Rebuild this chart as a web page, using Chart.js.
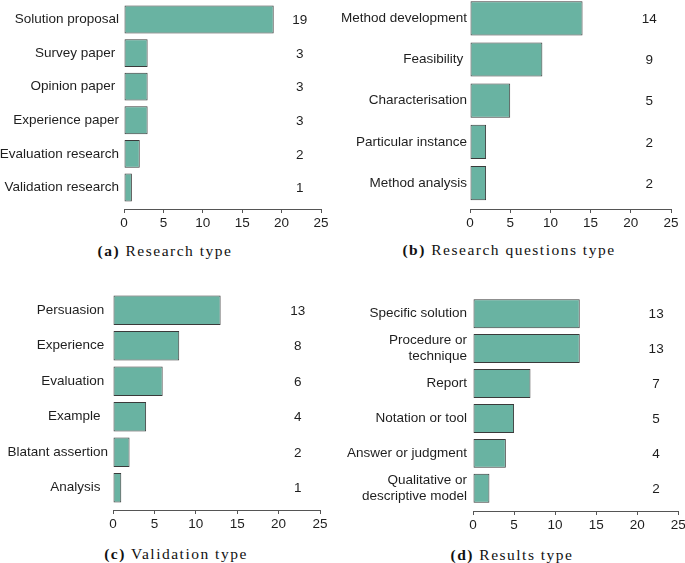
<!DOCTYPE html>
<html lang="en">
<head>
<meta charset="utf-8">
<script src="https://cdn.jsdelivr.net/npm/chart.js@4.4.0/dist/chart.umd.min.js"></script>
<style>
  html, body { margin: 0; padding: 0; background: #fff; overflow: hidden; }
  body { position: relative; width: 685px; height: 563px; }
  canvas { position: absolute; }
  #chartA { left: 0px; top: -17px; }
  #chartB { left: 340px; top: -18px; }
  #chartC { left: 0px; top: 272px; }
  #chartD { left: 340px; top: 274px; }
  .caption {
    position: absolute; width: 340px; text-align: center;
    font-family: "Liberation Serif", serif; font-size: 15.5px;
    letter-spacing: 1.5px; line-height: 20px; color: #111; white-space: nowrap;
  }
</style>
</head>
<body>
<canvas id="chartA" width="340" height="254"></canvas>
<canvas id="chartB" width="345" height="255"></canvas>
<canvas id="chartC" width="340" height="266"></canvas>
<canvas id="chartD" width="350" height="265"></canvas>

<div class="caption" style="left:-5px; top:241px"><b>(a)</b> Research type</div>
<div class="caption" style="left:339px; top:240px"><b>(b)</b> Research questions type</div>
<div class="caption" style="left:6px; top:544px"><b>(c)</b> Validation type</div>
<div class="caption" style="left:342px; top:545px"><b>(d)</b> Results type</div>

<script>
    // data, one pair of arrays per panel
    const researchTypes = ['Solution proposal', 'Survey paper ', 'Opinion paper ', 'Experience paper', 'Evaluation research', 'Validation research'];
    const researchCounts = [19, 3, 3, 3, 2, 1];

    const questionTypes = ['Method development', 'Feasibility ', 'Characterisation', 'Particular instance', 'Method analysis'];
    const questionCounts = [14, 9, 5, 2, 2];

    const validationTypes = ['Persuasion ', 'Experience ', 'Evaluation ', 'Example  ', 'Blatant assertion', 'Analysis  '];
    const validationCounts = [13, 8, 6, 4, 2, 1];

    const resultTypes = ['Specific solution', ['Procedure or', 'technique'], 'Report', 'Notation or tool', 'Answer or judgment', ['Qualitative or', 'descriptive model']];
    const resultCounts = [13, 13, 7, 5, 4, 2];

    const xTicks = [0, 5, 10, 15, 20, 25];

    const labelFont = { family: "'Liberation Sans', Arial, sans-serif", size: 13.5 };
    const textColor = '#1e1e1e';
    const axisColor = '#555';

    // writes the count of each bar in a column to the right
    const valueLabels = {
        id: 'valueLabels',
        afterDatasetsDraw(chart, args, opts) {
            const ctx = chart.ctx;
            const xPos = chart.scales.x.getPixelForValue(opts.at);
            const points = chart.data.datasets[0].data;
            ctx.save();
            ctx.font = labelFont.size + 'px ' + labelFont.family;
            ctx.fillStyle = textColor;
            ctx.textAlign = 'center';
            ctx.textBaseline = 'middle';
            chart.getDatasetMeta(0).data.forEach(function (bar, i) {
                ctx.fillText(String(points[i].x), xPos, bar.y + 1);
            });
            ctx.restore();
        }
    };

    function buildChart(id, labels, counts, cfg) {
        return new Chart(document.getElementById(id), {
            type: 'bar',
            data: {
                datasets: [{
                    data: counts.map((v, i) => ({ x: v, y: i })),
                    backgroundColor: '#69b3a2',
                    borderColor: '#3a3a3a',
                    borderWidth: 1,
                    borderSkipped: false,
                    categoryPercentage: 1,
                    barPercentage: 0.83
                }]
            },
            options: {
                indexAxis: 'y',
                responsive: false,
                animation: false,
                layout: { padding: { top: cfg.padTop, right: cfg.padRight, left: 0, bottom: 0 } },
                plugins: {
                    legend: { display: false },
                    tooltip: { enabled: false },
                    valueLabels: { at: 22.3 }
                },
                scales: {
                    x: {
                        type: 'linear', min: 0, max: 25,
                        afterBuildTicks: s => { s.ticks = xTicks.map(v => ({ value: v })); },
                        afterFit: s => { s.height = 28; },
                        grid: { drawOnChartArea: false, drawTicks: true, tickLength: 4, color: axisColor },
                        border: { display: true, color: axisColor },
                        ticks: { padding: 2, color: textColor, font: labelFont, maxRotation: 0 }
                    },
                    y: {
                        type: 'linear', reverse: true, offset: false, min: cfg.yMin, max: cfg.yMax,
                        afterBuildTicks: s => { s.ticks = labels.map((_, i) => ({ value: i })); },
                        afterFit: s => { s.width = cfg.axisWidth; },
                        grid: { display: false, drawTicks: false },
                        border: { display: false },
                        ticks: {
                            padding: cfg.labelPad, color: textColor, font: labelFont, autoSkip: false,
                            callback: (v, i) => labels[i]
                        }
                    }
                }
            },
            plugins: [valueLabels]
        });
    }

    buildChart('chartA', researchTypes, researchCounts, { padTop: 20, padRight: 19, axisWidth: 124, labelPad: 5, yMin: -0.49, yMax: 5.64 });
    buildChart('chartB', questionTypes, questionCounts, { padTop: 18, padRight: 14, axisWidth: 130, labelPad: 3, yMin: -0.444, yMax: 4.63 });
    buildChart('chartC', validationTypes, validationCounts, { padTop: 20.5, padRight: 20, axisWidth: 113, labelPad: 5, yMin: -0.5, yMax: 5.627 });
    buildChart('chartD', resultTypes, resultCounts, { padTop: 20.4, padRight: 11.7, axisWidth: 133, labelPad: 6, yMin: -0.5, yMax: 5.65 });
</script>
</body>
</html>
